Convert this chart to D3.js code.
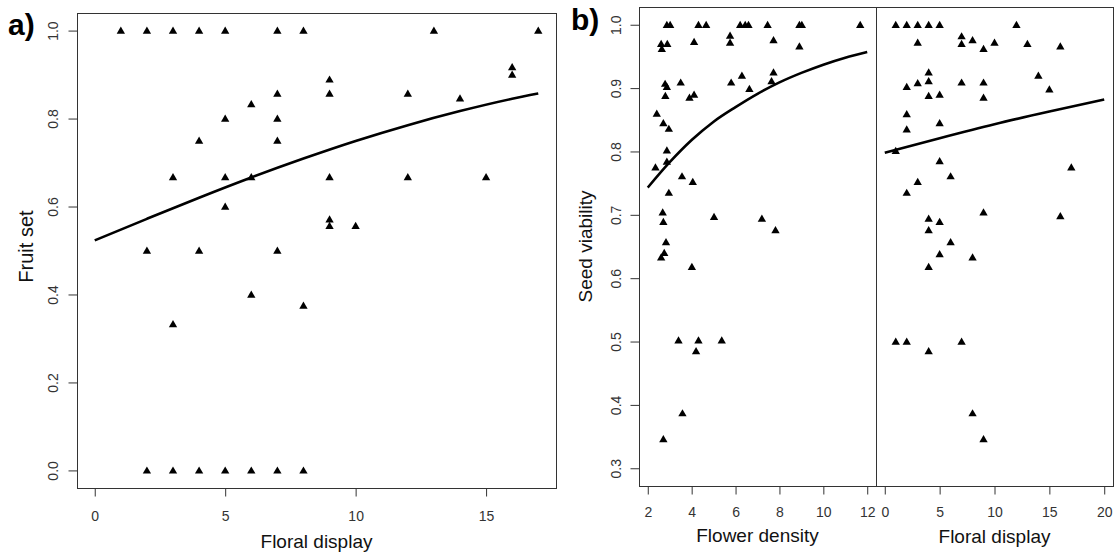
<!DOCTYPE html>
<html>
<head>
<meta charset="utf-8">
<title>Fruit set and seed viability</title>
<style>
  html, body { margin: 0; padding: 0; background: #fff; overflow: hidden; }
  svg { display: block; font-family: "Liberation Sans", Arial, sans-serif; }
  .tick line { stroke: #333; stroke-width: 1px; }
  .tick text { fill: #333; font-size: 14px; }
  .frame { fill: none; stroke: #333; stroke-width: 1px; }
  .fit { fill: none; stroke: #000; stroke-width: 2.6px; }
  .ttl { fill: #111; font-size: 19px; }
  .tag { fill: #000; font-size: 30px; font-weight: bold; }
</style>
</head>
<body>
<script src="https://d3js.org/d3.v7.min.js"></script>
<script>
// ---- panel a: fruit set vs floral display ----
const fruitDisplay = [1,2,3,4,5,7,8,13,17, 16,16,9,7,9,12,14,6,5,7,4,7,
  3,5,6,9,12,15,5,9,9,10, 2,4,7,6,8,3, 2,3,4,5,6,7,8];
const fruitSet = [1,1,1,1,1,1,1,1,1, 0.917,0.9,0.889,0.857,0.857,0.857,0.846,0.833,0.8,0.8,0.75,0.75,
  0.667,0.667,0.667,0.667,0.667,0.667,0.6,0.571,0.556,0.556, 0.5,0.5,0.5,0.4,0.375,0.333, 0,0,0,0,0,0,0];
const fruitFitX = [0, 2, 4, 6, 8, 10, 12, 14, 16, 17];
const fruitFitY = [0.523, 0.572, 0.620, 0.666, 0.709, 0.749, 0.785, 0.817, 0.845, 0.857];
const fruitTicksX = [0, 5, 10, 15];
const fruitTicksY = [0, 0.2, 0.4, 0.6, 0.8, 1.0];

// ---- panel b left: seed viability vs flower density ----
const density = [2.87,3.02,4.31,4.66,6.21,6.44,6.59,7.46,8.91,9.02,11.68,
  2.61,2.89,2.64,4.11,5.75,5.75,7.73,8.91,
  2.79,2.87,2.80,3.50,3.90,4.11,5.80,6.29,6.63,7.73,7.64,
  2.41,2.71,2.96,2.87,2.87,2.35,3.56,4.05,2.96,
  2.68,2.71,2.83,2.75,2.61,5.02,7.20,7.82,4.01,
  3.40,4.31,5.37,4.20,3.58,2.71];
const densityViab = [1,1,1,1,1,1,1,1,1,1,1,
  0.970,0.970,0.962,0.973,0.983,0.972,0.976,0.966,
  0.907,0.902,0.888,0.909,0.885,0.890,0.909,0.920,0.899,0.925,0.911,
  0.860,0.845,0.836,0.802,0.784,0.775,0.761,0.752,0.735,
  0.704,0.689,0.657,0.640,0.633,0.697,0.694,0.676,0.618,
  0.502,0.502,0.502,0.485,0.387,0.346];
const densityFitX = [2, 3, 4, 5, 6, 7, 8, 9, 10, 11, 12];
const densityFitY = [0.743, 0.783, 0.818, 0.847, 0.870, 0.891, 0.909, 0.924, 0.937, 0.948, 0.957];
const densityTicks = [2, 4, 6, 8, 10, 12];

// ---- panel b right: seed viability vs floral display ----
const display = [1,2,3,4,5,12, 3,7,7,8,9,10,13,16,
  4,3,4,2,7,9,14,15,4,5,9, 2,2,5,1,5,17,6,3,2,
  9,16,4,5,4,6,5,8,4, 1,2,7,4,8,9];
const displayViab = [1,1,1,1,1,1, 0.972,0.982,0.970,0.976,0.962,0.972,0.970,0.966,
  0.925,0.908,0.911,0.902,0.909,0.909,0.920,0.898,0.888,0.890,0.885,
  0.859,0.835,0.845,0.801,0.785,0.775,0.761,0.752,0.735,
  0.704,0.698,0.694,0.689,0.676,0.657,0.638,0.633,0.618,
  0.5,0.5,0.5,0.485,0.387,0.346];
const displayFitX = [0, 5, 10, 15, 20];
const displayFitY = [0.798, 0.821, 0.843, 0.863, 0.882];
const displayTicks = [0, 5, 10, 15, 20];
const viabTicks = [0.3, 0.4, 0.5, 0.6, 0.7, 0.8, 0.9, 1.0];

const W = 1119, H = 558;
const svg = d3.select("body").append("svg").attr("width", W).attr("height", H);

const tri = d3.symbol().type(d3.symbolTriangle).size(30);

// draws one scatter panel with its fitted curve
function panel(xv, yv, fx, fy, x, y) {
  const g = svg.append("g");
  const pts = xv.map((v, i) => [v, yv[i]]);
  g.selectAll("path.pt").data(pts).enter().append("path")
    .attr("class", "pt")
    .attr("d", tri)
    .attr("fill", "#000")
    .attr("transform", d => `translate(${x(d[0])},${y(d[1]) + 0.8})`);
  const line = d3.line().x(d => x(d[0])).y(d => y(d[1])).curve(d3.curveMonotoneX);
  g.append("path").attr("class", "fit").attr("d", line(fx.map((v, i) => [v, fy[i]])));
  return g;
}

function bottomAxis(x, ticks, yPos, labelDy) {
  const g = svg.append("g").attr("transform", `translate(0,${yPos})`)
    .call(d3.axisBottom(x).tickValues(ticks).tickSize(8).tickFormat(d3.format("d")));
  g.select(".domain").remove();
  g.selectAll(".tick text").attr("y", labelDy).attr("dy", 0);
}

function leftAxis(y, ticks, xPos, offset) {
  const g = svg.append("g").attr("transform", `translate(${xPos},0)`)
    .call(d3.axisLeft(y).tickValues(ticks).tickSize(9).tickFormat(d3.format(".1f")));
  g.select(".domain").remove();
  g.selectAll(".tick text")
    .attr("x", 0).attr("y", 0).attr("dy", 0)
    .attr("text-anchor", "middle")
    .attr("transform", `translate(${-offset},0) rotate(-90)`);
}

// ---- panel a ----
const aL = 77, aR = 556, aT = 13, aB = 488;
const xa = d3.scaleLinear().domain([-0.68, 17.68]).range([aL, aR]);
const ya = d3.scaleLinear().domain([-0.04, 1.04]).range([aB, aT]);
panel(fruitDisplay, fruitSet, fruitFitX, fruitFitY, xa, ya);
svg.append("rect").attr("class", "frame").attr("x", aL + 0.5).attr("y", aT + 0.5)
  .attr("width", aR - aL).attr("height", aB - aT);
bottomAxis(xa, fruitTicksX, aB + 0.5, 32);
leftAxis(ya, fruitTicksY, aL + 0.5, 20);
svg.append("text").attr("class", "ttl").attr("x", (aL + aR) / 2).attr("y", 548)
  .attr("text-anchor", "middle").text("Floral display");
svg.append("text").attr("class", "ttl").attr("text-anchor", "middle")
  .style("font-size", "20px")
  .attr("transform", `translate(33,${(aT + aB) / 2 - 4}) rotate(-90)`).text("Fruit set");
svg.append("text").attr("class", "tag").attr("x", 8).attr("y", 35).text("a)");

// ---- panel b ----
const bT = 7, bB = 486, bL = 639, bM = 876, bR = 1113;
const yb = d3.scaleLinear().domain([0.272, 1.028]).range([bB, bT]);
const xbl = d3.scaleLinear().domain([1.6, 12.4]).range([bL, bM]);
const xbr = d3.scaleLinear().domain([-0.8, 20.8]).range([bM, bR]);
panel(density, densityViab, densityFitX, densityFitY, xbl, yb);
panel(display, displayViab, displayFitX, displayFitY, xbr, yb);
svg.append("rect").attr("class", "frame").attr("x", bL + 0.5).attr("y", bT + 0.5)
  .attr("width", bR - bL).attr("height", bB - bT);
svg.append("line").attr("x1", bM + 0.5).attr("x2", bM + 0.5).attr("y1", bT).attr("y2", bB)
  .attr("stroke", "#333").attr("stroke-width", 1);
bottomAxis(xbl, densityTicks, bB + 0.5, 30);
bottomAxis(xbr, displayTicks, bB + 0.5, 30);
leftAxis(yb, viabTicks, bL + 0.5, 19);
svg.append("text").attr("class", "ttl").attr("x", (bL + bM) / 2).attr("y", 542)
  .attr("text-anchor", "middle").text("Flower density");
svg.append("text").attr("class", "ttl").attr("x", (bM + bR) / 2).attr("y", 543)
  .attr("text-anchor", "middle").text("Floral display");
svg.append("text").attr("class", "ttl").attr("text-anchor", "middle")
  .attr("transform", `translate(592,${(bT + bB) / 2}) rotate(-90)`).text("Seed viability");
svg.append("text").attr("class", "tag").attr("x", 571).attr("y", 30).text("b)");
</script>
</body>
</html>
